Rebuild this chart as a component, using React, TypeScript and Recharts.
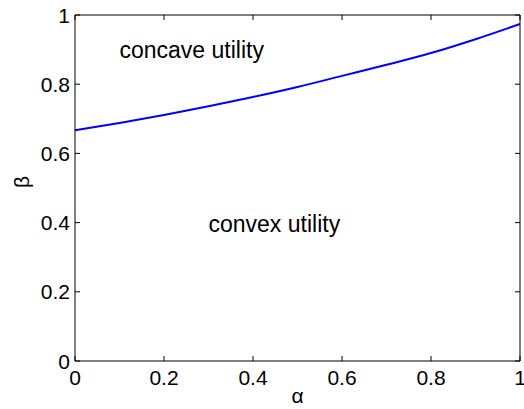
import React from 'react';
import { LineChart, Line, XAxis, YAxis, ReferenceDot } from 'recharts';

const alpha = [0, 0.1, 0.2, 0.3, 0.4, 0.5, 0.6, 0.7, 0.8, 0.9, 1];
const beta = [0.667, 0.688, 0.711, 0.736, 0.763, 0.792, 0.824, 0.856, 0.89, 0.93, 0.974];
const ticks = [0, 0.2, 0.4, 0.6, 0.8, 1];
const tickLabels = ['0', '0.2', '0.4', '0.6', '0.8', '1'];

const data = alpha.map((a, i) => ({ a, b: beta[i] }));

const FONT = '"Liberation Sans", Arial, sans-serif';
const FS = 21;

const label = (v: number) => tickLabels[ticks.indexOf(v)] ?? String(v);

const BottomTick = ({ x, y, payload }: any) => (
  <g>
    <line x1={x} y1={y} x2={x} y2={y - 5} stroke="#000" />
    <text x={x} y={y + 24} textAnchor="middle" fontSize={FS} fontFamily={FONT} fill="#000">
      {label(payload.value)}
    </text>
  </g>
);

const LeftTick = ({ x, y, payload }: any) => (
  <g>
    <line x1={x} y1={y} x2={x + 5} y2={y} stroke="#000" />
    <text x={x - 5} y={y + 7.5} textAnchor="end" fontSize={FS} fontFamily={FONT} fill="#000">
      {label(payload.value)}
    </text>
  </g>
);

const TopTick = ({ x, y }: any) => <line x1={x} y1={y} x2={x} y2={y + 5} stroke="#000" />;
const RightTick = ({ x, y }: any) => <line x1={x} y1={y} x2={x - 5} y2={y} stroke="#000" />;

const regionText = (text: string) => ({ viewBox }: any) => (
  <text x={viewBox.x} y={viewBox.y} fontSize={23} fontFamily={FONT} fill="#000">
    {text}
  </text>
);

export default function App() {
  return (
    <div style={{ position: 'absolute', left: 0, top: 0, background: '#fff' }}>
      <LineChart width={524} height={409} data={data} margin={{ top: 14, right: 3, left: 0, bottom: 0 }}>
        <XAxis
          dataKey="a"
          type="number"
          domain={[0, 1]}
          ticks={ticks}
          height={48}
          tickSize={0}
          tickMargin={0}
          tickLine={false}
          tick={<BottomTick />}
          stroke="#000"
          label={{ value: 'α', position: 'insideBottom', offset: 6, fontSize: FS, fontFamily: FONT, fill: '#000' }}
        />
        <XAxis
          xAxisId="top"
          orientation="top"
          dataKey="a"
          type="number"
          domain={[0, 1]}
          ticks={ticks}
          height={1}
          tickSize={0}
          tickMargin={0}
          tickLine={false}
          tick={<TopTick />}
          stroke="#000"
        />
        <YAxis
          type="number"
          domain={[0, 1]}
          ticks={ticks}
          width={75}
          tickSize={0}
          tickMargin={0}
          tickLine={false}
          tick={<LeftTick />}
          stroke="#000"
          label={{ value: 'β', angle: -90, position: 'insideLeft', offset: 22, fontSize: FS, fontFamily: FONT, fill: '#000' }}
        />
        <YAxis
          yAxisId="right"
          orientation="right"
          type="number"
          domain={[0, 1]}
          ticks={ticks}
          width={1}
          tickSize={0}
          tickMargin={0}
          tickLine={false}
          tick={<RightTick />}
          stroke="#000"
        />
        {/* invisible copy so the mirrored box axes get drawn */}
        <Line
          xAxisId="top"
          yAxisId="right"
          dataKey="b"
          stroke="none"
          dot={false}
          activeDot={false}
          isAnimationActive={false}
        />
        <Line
          dataKey="b"
          type="monotone"
          stroke="#0000ff"
          strokeWidth={2}
          dot={false}
          isAnimationActive={false}
        />
        <ReferenceDot x={0.1} y={0.876} r={0} stroke="none" label={{ content: regionText('concave utility') }} />
        <ReferenceDot x={0.3} y={0.373} r={0} stroke="none" label={{ content: regionText('convex utility') }} />
      </LineChart>
    </div>
  );
}
